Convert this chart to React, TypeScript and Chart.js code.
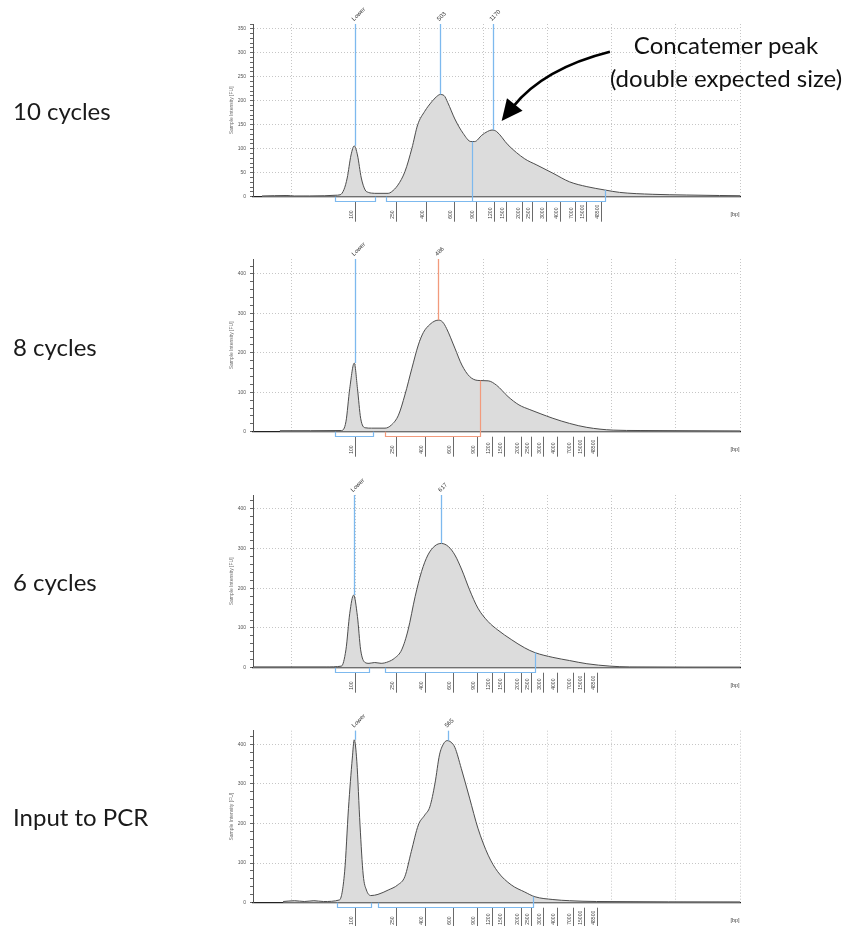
import React, { useEffect, useRef } from 'react';
import { Chart, registerables } from 'chart.js';
Chart.register(...registerables);

// ---------- labels ----------
const panelLabels = ['10 cycles', '8 cycles', '6 cycles', 'Input to PCR'];
const annotationLines = ['Concatemer peak', '(double expected size)'];
const yTitle = 'Sample Intensity [FU]';
const xUnit = '[bp]';

// ---------- ladder (bp tick labels), positions in migration units ----------
const ladderBp = ['100', '250', '400', '600', '900', '1200', '1500', '2000', '2500', '3000', '4000', '7000', '15000', '48500'];
const ladderPosP1 = [9.9, 16.3, 21.0, 25.4, 28.8, 31.6, 33.5, 36.0, 37.5, 39.7, 41.9, 44.2, 45.9, 48.3];
const ladderPos = [9.9, 16.3, 20.8, 25.2, 28.9, 31.3, 33.2, 35.8, 37.4, 39.2, 41.4, 43.9, 45.6, 47.7];
const gridX = [0, 10, 20, 30, 40, 50, 60, 70];

// ---------- panel 1: 10 cycles ----------
const p1X = [-4.6, -0.7, 0.5, 5.2, 6.8, 7.6, 8.2, 8.7, 9.3, 9.8, 10.3, 10.9, 11.5, 12.0, 12.5, 13.0, 15.1, 15.6, 16.6, 17.7, 18.8, 19.7, 20.8, 21.9, 22.6, 23.2, 23.8, 24.4, 25.5, 26.8, 28.0, 28.6, 29.7, 30.6, 31.3, 32.0, 33.8, 36.4, 38.3, 40.8, 43.4, 46.1, 48.9, 51.2, 56.4, 61.7, 66.8, 70];
const p1Y = [1.5, 2.5, 1.5, 2, 3, 4, 15, 39, 87, 106, 87, 39, 14, 9, 7.5, 7, 7, 10, 24, 52, 101, 150, 178, 198, 208, 213, 211, 196, 162, 132, 115, 115, 128, 136, 139, 136, 108, 79, 66, 49, 31, 21, 14, 9, 5, 3.5, 2.5, 2];
const p1PeakX = [9.9, 23.2, 31.4];
const p1PeakY = [106, 213, 139];
const p1PeakLabels = ['Lower', '503', '1170'];
const p1RegionFrom = [6.8, 14.7];
const p1RegionTo = [13.0, 48.9];
const p1RegionToY = [0, 14];
const p1SplitX = [28.2];
const p1SplitY = [115];
const arrowFrom = [49.7, 302];
const arrowCtrl = [39.4, 267.5];
const arrowTo = [32.8, 158];

// ---------- panel 2: 8 cycles ----------
const p2X = [-1.8, 7.8, 8.5, 9.1, 9.8, 10.3, 10.8, 11.5, 12.5, 14.6, 15.6, 16.7, 17.7, 18.8, 19.8, 20.6, 21.6, 22.4, 23.0, 23.6, 24.2, 25.5, 26.6, 27.8, 29.1, 30.7, 32.0, 33.8, 35.5, 37.2, 38.8, 40.8, 43.4, 46.1, 50.2, 54.4, 70];
const p2Y = [2.5, 3, 25, 110, 174, 110, 34, 10, 9, 9, 17, 42, 93, 161, 220, 252, 272, 281, 283, 278, 262, 212, 169, 140, 130, 129, 118, 89, 68, 56, 46, 34, 21, 11, 4, 3, 2];
const p2PeakX = [9.9, 22.9];
const p2PeakY = [174, 283];
const p2PeakLabels = ['Lower', '486'];
const p2RegionFrom = [6.8, 14.6];
const p2RegionTo = [12.7, 29.5];
const p2RegionToY = [0, 130];

// ---------- panel 3: 6 cycles ----------
const p3X = [-6, 5.4, 7.8, 8.5, 9.1, 9.7, 10.3, 10.8, 11.5, 12.1, 13.0, 14.0, 15.1, 16.1, 17.2, 18.2, 19.3, 20.3, 21.3, 22.4, 23.4, 24.5, 25.5, 26.6, 27.8, 29.1, 30.7, 32.2, 34.3, 36.4, 38.0, 40.8, 43.4, 46.1, 49.7, 52.8, 70];
const p3Y = [2, 2, 4, 45, 137, 183, 129, 45, 13, 11, 13, 11, 15, 24, 45, 95, 179, 242, 284, 307, 313, 305, 284, 246, 196, 150, 116, 95, 71, 50, 38, 26, 18, 10, 4, 2, 1.5];
const p3PeakX = [9.75, 23.4];
const p3PeakY = [183, 313];
const p3PeakLabels = ['Lower', '617'];
const p3RegionFrom = [6.8, 14.6];
const p3RegionTo = [12.1, 38.0];
const p3RegionToY = [0, 38];

// ---------- panel 4: input to PCR ----------
const p4X = [-1.3, 0.5, 2.0, 3.5, 5.0, 7.5, 8.3, 8.9, 9.5, 9.8, 10.2, 10.7, 11.2, 11.7, 12.4, 13.5, 15.1, 16.6, 17.7, 18.7, 19.8, 20.8, 21.6, 22.4, 23.1, 23.7, 24.3, 24.9, 25.5, 26.5, 27.8, 29.1, 30.7, 32.2, 34.3, 36.4, 38.0, 40.8, 43.4, 47.6, 70];
const p4Y = [3, 5, 3, 5, 3, 7, 78, 238, 365, 411, 357, 196, 70, 32, 18, 21, 32, 45, 66, 129, 196, 221, 242, 301, 373, 400, 409, 405, 392, 339, 264, 188, 120, 78, 45, 27, 15, 8, 5, 3, 2];
const p4PeakX = [9.9, 24.4];
const p4PeakY = [411, 409];
const p4PeakLabels = ['Lower', '565'];
const p4RegionFrom = [7.1, 13.5];
const p4RegionTo = [12.4, 37.7];
const p4RegionToY = [0, 15];

const BLUE = '#7db9ee';
const ORANGE = '#f29a7c';
const TICK_FONT = '"Liberation Sans", Arial, sans-serif';

type PanelCfg = {
  top: number; height: number; padTop: number; padBottom: number;
  yMax: number; yMajor: number; yMinor: number;
  xs: number[]; ys: number[]; ladder: number[];
  peakX: number[]; peakY: number[]; peakLabels: string[]; peakColors: string[];
  regFrom: number[]; regTo: number[]; regToY: number[]; regColors: string[];
  splitX?: number[]; splitY?: number[];
  arrow?: boolean;
};

const panels: PanelCfg[] = [
  { top: 0, height: 230, padTop: 24, padBottom: 33.3, yMax: 360, yMajor: 50, yMinor: 10, xs: p1X, ys: p1Y, ladder: ladderPosP1,
    peakX: p1PeakX, peakY: p1PeakY, peakLabels: p1PeakLabels, peakColors: [BLUE, BLUE, BLUE],
    regFrom: p1RegionFrom, regTo: p1RegionTo, regToY: p1RegionToY, regColors: [BLUE, BLUE], splitX: p1SplitX, splitY: p1SplitY, arrow: true },
  { top: 235, height: 225, padTop: 24, padBottom: 28.3, yMax: 438, yMajor: 100, yMinor: 20, xs: p2X, ys: p2Y, ladder: ladderPos,
    peakX: p2PeakX, peakY: p2PeakY, peakLabels: p2PeakLabels, peakColors: [BLUE, ORANGE],
    regFrom: p2RegionFrom, regTo: p2RegionTo, regToY: p2RegionToY, regColors: [BLUE, ORANGE] },
  { top: 470, height: 225, padTop: 25, padBottom: 27.3, yMax: 435, yMajor: 100, yMinor: 20, xs: p3X, ys: p3Y, ladder: ladderPos,
    peakX: p3PeakX, peakY: p3PeakY, peakLabels: p3PeakLabels, peakColors: [BLUE, BLUE],
    regFrom: p3RegionFrom, regTo: p3RegionTo, regToY: p3RegionToY, regColors: [BLUE, BLUE] },
  { top: 705, height: 221, padTop: 25.7, padBottom: 23.3, yMax: 434, yMajor: 100, yMinor: 20, xs: p4X, ys: p4Y, ladder: ladderPos,
    peakX: p4PeakX, peakY: p4PeakY, peakLabels: p4PeakLabels, peakColors: [BLUE, BLUE],
    regFrom: p4RegionFrom, regTo: p4RegionTo, regToY: p4RegionToY, regColors: [BLUE, BLUE] },
];

const labelCenters = [111, 347, 582, 817];

function makeDecor(p: PanelCfg) {
  return {
    id: 'electroDecor',
    afterDatasetsDraw(chart: any) {
      const { ctx, chartArea, scales } = chart;
      const x = scales.x, y = scales.y;
      p.peakX.forEach((v, i) => {
        const px = Math.round(x.getPixelForValue(v)) + 0.5;
        const py = y.getPixelForValue(p.peakY[i]);
        ctx.save();
        ctx.strokeStyle = p.peakColors[i];
        ctx.lineWidth = 1.3;
        ctx.beginPath();
        ctx.moveTo(px, chartArea.top);
        ctx.lineTo(px, py);
        ctx.stroke();
        ctx.restore();
      });
    },
    afterDraw(chart: any) {
      const { ctx, chartArea, scales } = chart;
      const x = scales.x, y = scales.y;
      const bottom = chartArea.bottom;
      p.peakX.forEach((v, i) => {
        const px = x.getPixelForValue(v);
        ctx.save();
        ctx.translate(px - 2, chartArea.top - 4);
        ctx.rotate(-Math.PI / 4);
        ctx.font = '6px ' + TICK_FONT;
        ctx.fillStyle = '#333';
        ctx.textAlign = 'left';
        ctx.textBaseline = 'middle';
        ctx.fillText(p.peakLabels[i], 0, 0);
        ctx.restore();
      });
      p.ladder.forEach((v, i) => {
        const px = Math.round(x.getPixelForValue(v)) + 0.5;
        ctx.save();
        ctx.strokeStyle = '#6a6a6a';
        ctx.lineWidth = 1;
        ctx.beginPath();
        ctx.moveTo(px, bottom + 5);
        ctx.lineTo(px, bottom + 25);
        ctx.stroke();
        ctx.translate(px - 3.5, bottom + 22);
        ctx.rotate(-Math.PI / 2);
        ctx.font = '5px ' + TICK_FONT;
        ctx.fillStyle = '#444';
        ctx.textAlign = 'left';
        ctx.textBaseline = 'middle';
        ctx.fillText(ladderBp[i], 0, 0);
        ctx.restore();
      });
      ctx.save();
      ctx.font = '5.5px ' + TICK_FONT;
      ctx.fillStyle = '#444';
      ctx.textAlign = 'center';
      ctx.textBaseline = 'middle';
      ctx.fillText(xUnit, chartArea.right - 5, bottom + 18);
      ctx.restore();
      p.regFrom.forEach((v, i) => {
        const x1 = Math.round(x.getPixelForValue(v)) + 0.5;
        const x2 = Math.round(x.getPixelForValue(p.regTo[i])) + 0.5;
        const yb = Math.round(bottom + 4) + 0.5;
        const yEnd = p.regToY[i] > 0 ? y.getPixelForValue(p.regToY[i]) : bottom;
        ctx.save();
        ctx.strokeStyle = p.regColors[i];
        ctx.lineWidth = 1.2;
        ctx.beginPath();
        ctx.moveTo(x1, bottom);
        ctx.lineTo(x1, yb);
        ctx.lineTo(x2, yb);
        ctx.lineTo(x2, yEnd);
        ctx.stroke();
        ctx.restore();
      });
      if (p.splitX && p.splitY) {
        p.splitX.forEach((v, i) => {
          const px = Math.round(x.getPixelForValue(v)) + 0.5;
          ctx.save();
          ctx.strokeStyle = BLUE;
          ctx.lineWidth = 1.2;
          ctx.beginPath();
          ctx.moveTo(px, bottom + 4.5);
          ctx.lineTo(px, y.getPixelForValue(p.splitY![i]));
          ctx.stroke();
          ctx.restore();
        });
      }
      if (p.arrow) {
        const sx = x.getPixelForValue(arrowFrom[0]), sy = y.getPixelForValue(arrowFrom[1]);
        const cx = x.getPixelForValue(arrowCtrl[0]), cy = y.getPixelForValue(arrowCtrl[1]);
        const tx = x.getPixelForValue(arrowTo[0]), ty = y.getPixelForValue(arrowTo[1]);
        let dx = tx - cx, dy = ty - cy;
        const len = Math.hypot(dx, dy);
        dx /= len; dy /= len;
        const headLen = 21, halfW = 10;
        const bx = tx - dx * headLen, by = ty - dy * headLen;
        ctx.save();
        ctx.strokeStyle = '#000';
        ctx.fillStyle = '#000';
        ctx.lineWidth = 2.6;
        ctx.beginPath();
        ctx.moveTo(sx, sy);
        ctx.quadraticCurveTo(cx, cy, bx + dx * 3, by + dy * 3);
        ctx.stroke();
        ctx.beginPath();
        ctx.moveTo(tx, ty);
        ctx.lineTo(bx - dy * halfW, by + dx * halfW);
        ctx.lineTo(bx + dy * halfW, by - dx * halfW);
        ctx.closePath();
        ctx.fill();
        ctx.restore();
      }
    },
  };
}

function Panel({ p }: { p: PanelCfg }) {
  const ref = useRef<HTMLCanvasElement | null>(null);
  useEffect(() => {
    if (!ref.current) return;
    const yTicks: number[] = [];
    for (let v = 0; v <= p.yMax; v += p.yMinor) yTicks.push(v);
    const chart = new Chart(ref.current, {
      type: 'line',
      data: {
        datasets: [{
          data: p.xs.map((xv, i) => ({ x: xv, y: p.ys[i] })),
          borderColor: '#4d4d4d',
          borderWidth: 1,
          backgroundColor: '#dcdcdc',
          fill: 'origin',
          pointRadius: 0,
          cubicInterpolationMode: 'monotone',
        }],
      },
      options: {
        responsive: false,
        animation: false,
        devicePixelRatio: 1,
        layout: { padding: { left: 215, right: 107, top: p.padTop, bottom: p.padBottom } },
        plugins: { legend: { display: false }, tooltip: { enabled: false } },
        scales: {
          x: {
            type: 'linear',
            min: -6,
            max: 70,
            afterBuildTicks: (s: any) => { s.ticks = gridX.map((v) => ({ value: v })); },
            afterFit: (s: any) => { s.height = 0; },
            ticks: { display: false },
            grid: { color: '#c6c6c6', drawTicks: false, lineWidth: 1 },
            border: { display: true, color: '#222', width: 1.2, dash: [1, 2] },
          },
          y: {
            type: 'linear',
            min: 0,
            max: p.yMax,
            afterBuildTicks: (s: any) => { s.ticks = yTicks.map((v) => ({ value: v })); },
            afterFit: (s: any) => { s.width = 38; },
            ticks: {
              autoSkip: false,
              padding: 4,
              color: '#555',
              font: { size: 5, family: TICK_FONT },
              callback: (v: any) => (Number(v) % p.yMajor === 0 ? String(v) : ''),
            },
            grid: {
              color: (c: any) => (c.tick && c.tick.value % p.yMajor === 0 && c.tick.value !== 0 ? '#c6c6c6' : 'rgba(0,0,0,0)'),
              tickColor: '#666',
              tickLength: 3,
              lineWidth: 1,
            },
            border: { display: true, color: '#555', width: 1, dash: [1, 2] },
            title: {
              display: true,
              text: yTitle,
              color: '#6e6e6e',
              font: { size: 5, family: TICK_FONT },
              padding: { top: 14, bottom: 0 },
            },
          },
        },
      },
      plugins: [makeDecor(p)],
    } as any);
    return () => chart.destroy();
  }, [p]);
  return (
    <div style={{ position: 'absolute', left: 0, top: p.top, width: 847, height: p.height }}>
      <canvas ref={ref} width={847} height={p.height} style={{ width: 847, height: p.height, display: 'block' }} />
    </div>
  );
}

export default function App() {
  return (
    <div style={{ position: 'absolute', left: 0, top: 0, width: 847, height: 926, background: '#fff', overflow: 'hidden', fontFamily: 'Lato, "Noto Sans", sans-serif', color: '#1a1a1a' }}>
      {panels.map((p, i) => <Panel key={i} p={p} />)}
      {panelLabels.map((t, i) => (
        <div key={t} style={{ position: 'absolute', left: 13, top: labelCenters[i] - 15, height: 30, lineHeight: '30px', fontSize: 24, whiteSpace: 'nowrap' }}>{t}</div>
      ))}
      <div style={{ position: 'absolute', left: 586, top: 27.5, width: 280, textAlign: 'center', fontSize: 24, lineHeight: '33px', whiteSpace: 'nowrap', color: '#111' }}>
        {annotationLines.map((t) => <div key={t}>{t}</div>)}
      </div>
    </div>
  );
}
